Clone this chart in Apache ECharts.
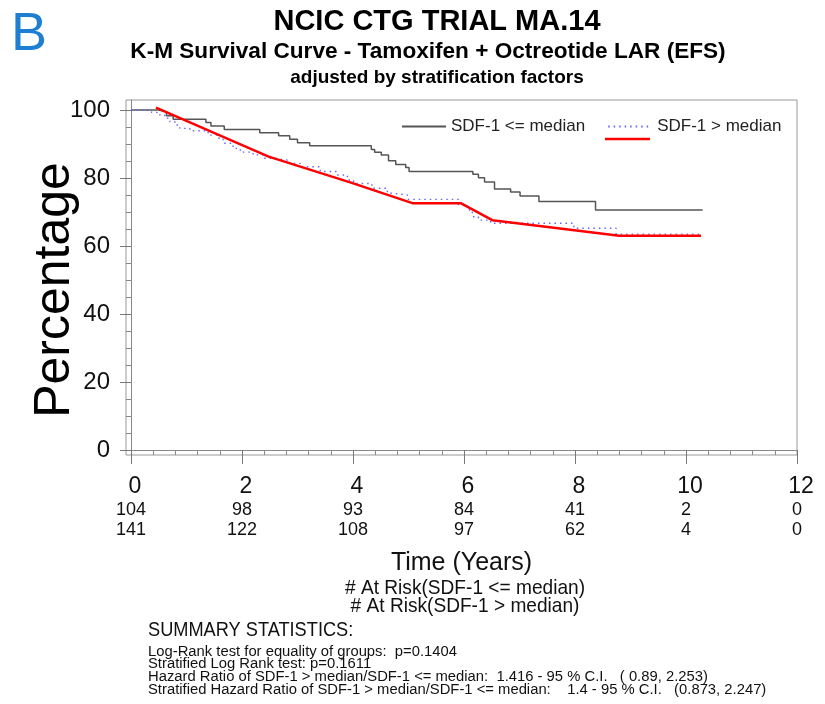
<!DOCTYPE html>
<html>
<head>
<meta charset="utf-8">
<script src="https://cdn.jsdelivr.net/npm/echarts@6/dist/echarts.min.js"></script>
<style>
  html, body { margin: 0; padding: 0; background: #fff; }
  #chart { width: 825px; height: 704px; }
</style>
</head>
<body>
<div id="chart"></div>
<script>
// tick labels
const timeTicks = [0, 2, 4, 6, 8, 10, 12];
const pctTicks = [0, 20, 40, 60, 80, 100];
// number at risk under each time tick
const atRiskLow = [104, 98, 93, 84, 41, 2, 0];
const atRiskHigh = [141, 122, 108, 97, 62, 4, 0];

// K-M steps [years, percent], SDF-1 <= median
const lowKM = [
  [0, 100], [0.50, 99.5], [0.64, 98.3], [0.76, 97.3], [1.35, 96.3], [1.44, 95.3],
  [1.68, 94.3], [2.32, 93.3], [2.66, 92.4], [2.86, 91.4], [3.00, 90.4], [3.22, 89.5],
  [4.33, 88.4], [4.39, 87.6], [4.51, 86.8], [4.64, 85.1], [4.77, 84.0], [4.95, 83.1],
  [5.01, 81.9], [6.16, 81.1], [6.26, 80.1], [6.37, 78.8], [6.55, 76.8], [6.84, 75.9],
  [7.01, 74.7], [7.35, 73.1], [8.37, 70.6], [10.30, 70.6]
];
// K-M steps, SDF-1 > median
const highKM = [
  [0, 100], [0.37, 99.3], [0.52, 98.5], [0.61, 97.6], [0.70, 96.6], [0.79, 95.6],
  [0.88, 94.6], [1.06, 93.9], [1.39, 92.6], [1.55, 91.7], [1.66, 90.2], [1.84, 88.7],
  [1.97, 87.6], [2.20, 86.8], [2.38, 85.8], [2.56, 85.3], [2.81, 84.3], [3.05, 83.3],
  [3.41, 81.9], [3.71, 80.9], [3.90, 79.4], [4.01, 78.4], [4.34, 77.0], [4.62, 75.5],
  [4.73, 75.0], [4.98, 73.7], [5.90, 72.1], [6.06, 70.6], [6.15, 68.6], [6.26, 67.6],
  [6.48, 66.7], [7.98, 65.2], [8.74, 63.5], [10.27, 63.5]
];
// adjusted curve, SDF-1 > median
const highAdjusted = [
  [0.45, 100.7], [2.48, 86.3], [3.95, 78.7], [5.07, 72.6], [5.94, 72.6],
  [6.51, 67.6], [8.80, 63.0], [10.27, 63.0]
];

const sans = "'Liberation Sans', Arial, sans-serif";

const xMinor = [];
for (let v = 0.4; v < 12; v += 0.4) {
  const r = Math.round(v * 10) / 10;
  if (r % 2 !== 0) xMinor.push(r);
}
const yMinor = [];
for (let v = 5; v < 100; v += 5) {
  if (v % 20 !== 0) yMinor.push(v);
}

const chart = echarts.init(document.getElementById("chart"));

const hiddenX = (extra) => Object.assign({
  type: "value",
  gridIndex: 0,
  position: "bottom",
  min: -0.09,
  max: 12,
  axisLine: { show: false },
  axisTick: { show: false },
  axisLabel: { show: false },
  splitLine: { show: false },
}, extra);

chart.setOption({
  animation: false,
  backgroundColor: "#fff",
  title: [
    {
      text: "NCIC CTG TRIAL MA.14",
      left: 437, top: 7, textAlign: "center", padding: 0,
      textStyle: { fontFamily: sans, fontSize: 29, fontWeight: "bold", color: "#000" },
    },
    {
      text: "K-M Survival Curve - Tamoxifen + Octreotide LAR (EFS)",
      left: 428, top: 40, textAlign: "center", padding: 0,
      textStyle: { fontFamily: sans, fontSize: 22.6, fontWeight: "bold", color: "#000" },
    },
    {
      text: "adjusted by stratification factors",
      left: 437, top: 68, textAlign: "center", padding: 0,
      textStyle: { fontFamily: sans, fontSize: 19, fontWeight: "bold", color: "#000" },
    },
  ],
  legend: {
    data: ["SDF-1 <= median", "SDF-1 > median"],
    left: 401,
    top: 118,
    padding: 0,
    itemWidth: 44,
    itemHeight: 14,
    itemGap: 22,
    itemStyle: { color: "transparent", borderWidth: 0, opacity: 0 },
    textStyle: { fontFamily: sans, fontSize: 17, color: "#222" },
  },
  grid: {
    left: 126, right: 28, top: 100, bottom: 249,
    show: true, borderColor: "#999", borderWidth: 1,
  },
  xAxis: [
    {
      type: "value",
      min: -0.09,
      max: 12,
      name: "Time (Years)",
      nameLocation: "middle",
      nameGap: 96,
      nameTextStyle: { fontFamily: sans, fontSize: 25, color: "#111" },
      axisLine: { show: true, lineStyle: { color: "#888" } },
      axisTick: { show: true, customValues: timeTicks, length: 14, lineStyle: { color: "#777" } },
      axisLabel: {
        customValues: timeTicks, margin: 20, padding: [0, 0, 0, 8],
        fontFamily: sans, fontSize: 23, color: "#111",
      },
      splitLine: { show: false },
    },
    hiddenX({
      axisTick: { show: true, customValues: xMinor, length: 5, lineStyle: { color: "#888" } },
    }),
    hiddenX({
      axisLabel: {
        show: true, customValues: timeTicks, margin: 46,
        fontFamily: sans, fontSize: 18, color: "#111",
        formatter: (v) => String(atRiskLow[timeTicks.indexOf(v)]),
      },
    }),
    hiddenX({
      axisLabel: {
        show: true, customValues: timeTicks, margin: 66,
        fontFamily: sans, fontSize: 18, color: "#111",
        formatter: (v) => String(atRiskHigh[timeTicks.indexOf(v)]),
      },
    }),
  ],
  yAxis: [
    {
      type: "value",
      min: -1.47,
      max: 102.94,
      axisLine: { show: true, lineStyle: { color: "#888" } },
      axisTick: { show: true, customValues: pctTicks, length: 11, lineStyle: { color: "#777" } },
      axisLabel: {
        customValues: pctTicks, margin: 16,
        fontFamily: sans, fontSize: 24, color: "#111",
      },
      splitLine: { show: false },
    },
    {
      type: "value",
      position: "left",
      min: -1.47,
      max: 102.94,
      axisLine: { show: false },
      axisTick: { show: true, customValues: yMinor, length: 5, lineStyle: { color: "#888" } },
      axisLabel: { show: false },
      splitLine: { show: false },
    },
  ],
  graphic: [
    {
      type: "text", left: 11, top: 8,
      style: { text: "B", fontFamily: sans, fontSize: 54, fill: "#1e7fd2" },
    },
    {
      type: "text", x: 55, y: 290, rotation: Math.PI / 2,
      style: {
        text: "Percentage", fontFamily: sans, fontSize: 50, fill: "#000",
        align: "center", verticalAlign: "middle",
      },
    },
    {
      type: "text", x: 465, y: 588, scaleX: 0.91,
      style: {
        text: "# At Risk(SDF-1 <= median)", fontFamily: sans, fontSize: 21, fill: "#111",
        align: "center", verticalAlign: "middle",
      },
    },
    {
      type: "text", x: 465, y: 606, scaleX: 0.91,
      style: {
        text: "# At Risk(SDF-1 > median)", fontFamily: sans, fontSize: 21, fill: "#111",
        align: "center", verticalAlign: "middle",
      },
    },
    {
      type: "text", x: 148, y: 630, scaleX: 0.91,
      style: {
        text: "SUMMARY STATISTICS:", fontFamily: sans, fontSize: 20, fill: "#111",
        verticalAlign: "middle",
      },
    },
    {
      type: "text", x: 148, y: 645, scaleX: 0.955,
      style: {
        text: "Log-Rank test for equality of groups:  p=0.1404\n" +
          "Stratified Log Rank test: p=0.1611\n" +
          "Hazard Ratio of SDF-1 > median/SDF-1 <= median:  1.416 - 95 % C.I.   ( 0.89, 2.253)\n" +
          "Stratified Hazard Ratio of SDF-1 > median/SDF-1 <= median:    1.4 - 95 % C.I.   (0.873, 2.247)",
        fontFamily: sans, fontSize: 15.5, lineHeight: 12.8, fill: "#111",
      },
    },
    // red stroke under the dotted legend sample
    {
      type: "line",
      shape: { x1: 605, y1: 139, x2: 650, y2: 139 },
      style: { stroke: "#ff0000", lineWidth: 2.5 },
    },
  ],
  series: [
    {
      name: "SDF-1 <= median",
      type: "line",
      step: "end",
      showSymbol: false,
      symbol: "none",
      lineStyle: { color: "#555", width: 1.5 },
      itemStyle: { color: "#555" },
      data: lowKM,
    },
    {
      name: "SDF-1 > median",
      type: "line",
      step: "end",
      showSymbol: false,
      symbol: "none",
      lineStyle: { color: "#6464ff", width: 1.4, type: [1.5, 4] },
      itemStyle: { color: "#6464ff" },
      data: highKM,
    },
    {
      name: "Adjusted SDF-1 > median",
      type: "line",
      showSymbol: false,
      symbol: "none",
      lineStyle: { color: "#ff0000", width: 2.5 },
      itemStyle: { color: "#ff0000" },
      data: highAdjusted,
    },
  ],
});
</script>
</body>
</html>
